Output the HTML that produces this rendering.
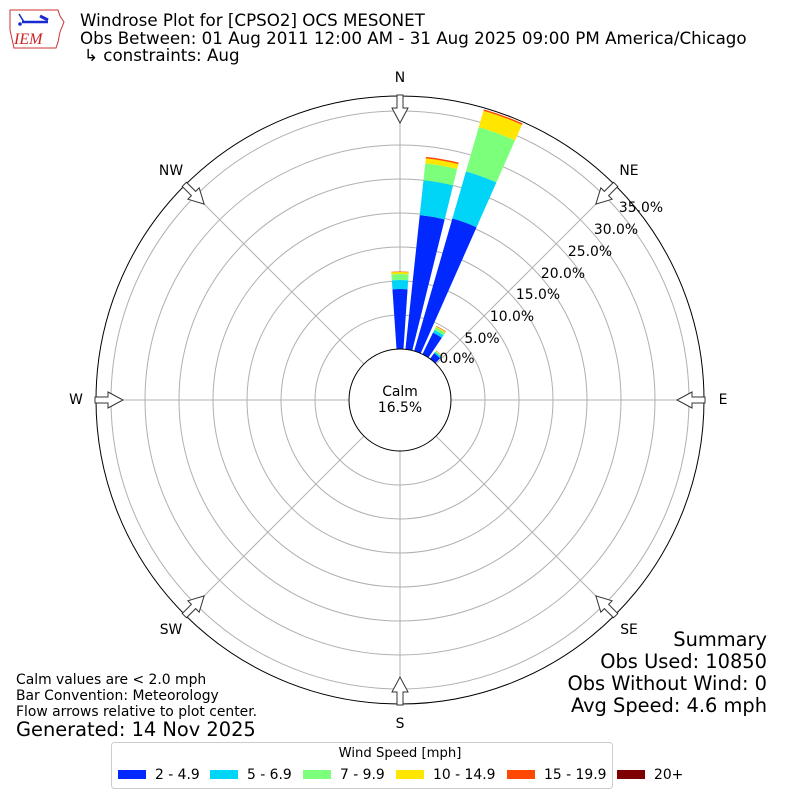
<!DOCTYPE html>
<html><head><meta charset="utf-8"><style>
body{margin:0;background:#fff}
svg{display:block;font-family:"DejaVu Sans","Liberation Sans",sans-serif}
</style></head><body>
<svg id="s" width="800" height="800" viewBox="0 0 800 800" xmlns="http://www.w3.org/2000/svg">
<rect width="800" height="800" fill="#fff"/>
<path d="M10 10 L58 10 L60 16 L64 22 L60 32 L58 42 L56 48 L14 48 L10 30 Z" fill="#fff" stroke="#c33" stroke-width="1"/>
<line x1="22" y1="22" x2="48" y2="22" stroke="#1a2ad0" stroke-width="2.5"/>
<line x1="19" y1="14" x2="24" y2="22" stroke="#1a2ad0" stroke-width="1.5"/>
<line x1="40" y1="16" x2="48" y2="20" stroke="#1a2ad0" stroke-width="3"/>
<circle cx="20" cy="24" r="1.8" fill="#1a2ad0"/>
<text x="14" y="44" font-family="Liberation Serif,serif" font-style="italic" font-size="16" fill="#c22">IEM</text>
<text x="80" y="26" font-size="16.7">Windrose Plot for [CPSO2] OCS MESONET</text>
<text x="80" y="44" font-size="16.7">Obs Between: 01 Aug 2011 12:00 AM - 31 Aug 2025 09:00 PM America/Chicago</text>
<text x="84" y="61" font-size="16.7">↳ constraints: Aug</text>
<g id="g"></g>
<text x="767" y="646" font-size="19.4" text-anchor="end">Summary</text>
<text x="767" y="668" font-size="19.4" text-anchor="end">Obs Used: 10850</text>
<text x="767" y="690" font-size="19.4" text-anchor="end">Obs Without Wind: 0</text>
<text x="767" y="712" font-size="19.4" text-anchor="end">Avg Speed: 4.6 mph</text>
<text x="16" y="684" font-size="13.9">Calm values are &lt; 2.0 mph</text>
<text x="16" y="700" font-size="13.9">Bar Convention: Meteorology</text>
<text x="16" y="716" font-size="13.9">Flow arrows relative to plot center.</text>
<text x="16" y="736" font-size="19.4">Generated: 14 Nov 2025</text>
<rect x="111.5" y="742.5" width="501" height="46" rx="3" fill="#fff" stroke="#ccc"/>
<text x="400" y="757" font-size="13.2" text-anchor="middle">Wind Speed [mph]</text>
<g font-size="13.9">
<rect x="118" y="770" width="28" height="9" fill="#0028ff"/><text x="155" y="779">2 - 4.9</text>
<rect x="210" y="770" width="28" height="9" fill="#00d4f7"/><text x="247" y="779">5 - 6.9</text>
<rect x="303" y="770" width="28" height="9" fill="#7cff7a"/><text x="340" y="779">7 - 9.9</text>
<rect x="396" y="770" width="28" height="9" fill="#ffe600"/><text x="433" y="779">10 - 14.9</text>
<rect x="507" y="770" width="28" height="9" fill="#ff4800"/><text x="544" y="779">15 - 19.9</text>
<rect x="617" y="770" width="28" height="9" fill="#7f0000"/><text x="654" y="779">20+</text>
</g>
</svg>
<script>
var g=document.getElementById('g'),cx=400,cy=400,h='';
function P(r,a){a=a*Math.PI/180;return [cx+r*Math.sin(a),cy-r*Math.cos(a)];}
for(var k=1;k<=7;k++)h+='<circle cx="400" cy="400" r="'+(51+34*k)+'" fill="none" stroke="#b0b0b0" stroke-width="1"/>';
for(var a=0;a<360;a+=45){var p1=P(51,a),p2=P(304,a);h+='<line x1="'+p1[0]+'" y1="'+p1[1]+'" x2="'+p2[0]+'" y2="'+p2[1]+'" stroke="#b0b0b0" stroke-width="1"/>';}
var C=['#0028ff','#00d4f7','#7cff7a','#ffe600','#ff4800'];
var bars=[[0,[111,120,126,128,128.5]],[10,[186,221,238,243,244.5]],[20,[189,238,284,301,302.5]],[30,[75,78,81,82,82.5]],[40,[58,59.5,60.5,61,61.3]]];
bars.forEach(function(b){var r0=51;b[1].forEach(function(r,i){var a1=b[0]-3.9,a2=b[0]+3.9;var A=P(r0,a1),B=P(r,a1),Cc=P(r,a2),D=P(r0,a2);
h+='<path d="M'+A+' L'+B+' A'+r+' '+r+' 0 0 1 '+Cc+' L'+D+' A'+r0+' '+r0+' 0 0 0 '+A+'Z" fill="'+C[i]+'"/>';r0=r;});});
h+='<circle cx="400" cy="400" r="51" fill="#fff" stroke="#000" stroke-width="1"/>';
h+='<circle cx="400" cy="400" r="304" fill="none" stroke="#000" stroke-width="1"/>';
h+='<text x="400" y="396" font-size="13.9" text-anchor="middle">Calm</text><text x="400" y="412" font-size="13.9" text-anchor="middle">16.5%</text>';
for(var a=0;a<360;a+=45){h+='<g transform="rotate('+a+' 400 400)"><path d="M397 95 L403 95 L403 108 L408 108 L400 123 L392 108 L397 108 Z" fill="#fff" stroke="#333" stroke-width="1"/></g>';}
var L=[['N',400,82],['NE',629,175],['E',723,404],['SE',629,634],['S',400,728],['SW',171,634],['W',76,404],['NW',171,175]];
L.forEach(function(l){h+='<text x="'+l[1]+'" y="'+l[2]+'" font-size="13.9" text-anchor="middle">'+l[0]+'</text>';});
var T=[[457,363,'0.0%'],[482,343,'5.0%'],[512,321,'10.0%'],[538,299,'15.0%'],[563,278,'20.0%'],[590,256,'25.0%'],[616,234,'30.0%'],[641,212,'35.0%']];
T.forEach(function(t){h+='<text x="'+t[0]+'" y="'+t[1]+'" font-size="13.9" text-anchor="middle">'+t[2]+'</text>';});
g.innerHTML=h;
</script>
</body></html>
